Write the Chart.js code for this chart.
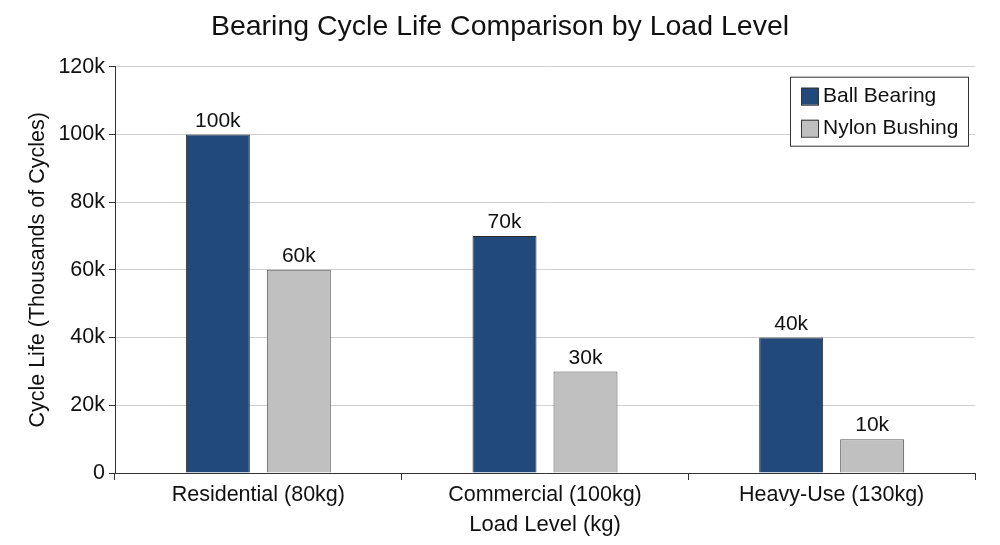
<!DOCTYPE html>
<html>
<head>
<meta charset="utf-8">
<script src="https://cdn.jsdelivr.net/npm/chart.js@4"></script>
<style>
  html, body { margin: 0; padding: 0; background: #fff; }
  #wrap { width: 1000px; height: 545px; }
</style>
</head>
<body>
<div id="wrap"><canvas id="myChart" width="1000" height="545"></canvas></div>
<script>
// values in thousands of cycles
const categories = ['Residential (80kg)', 'Commercial (100kg)', 'Heavy-Use (130kg)'];
const ballBearing = [100, 70, 40];
const nylonBushing = [60, 30, 10];
const yTicks = [0, 20, 40, 60, 80, 100, 120];

const FONT = '"Liberation Sans", Arial, sans-serif';
Chart.defaults.font.family = FONT;
Chart.defaults.color = '#111';

// center the title on the whole canvas, not on the padded area
const centerTitle = {
  id: 'centerTitle',
  afterLayout(chart) {
    const t = chart.titleBlock;
    if (t) { t.left = 0; t.right = chart.width; t.width = chart.width; }
  }
};

// value labels above each bar
const barLabels = {
  id: 'barLabels',
  afterDatasetsDraw(chart) {
    const ctx = chart.ctx;
    ctx.save();
    ctx.font = '21px ' + FONT;
    ctx.fillStyle = '#111';
    ctx.textAlign = 'center';
    ctx.textBaseline = 'bottom';
    chart.data.datasets.forEach((ds, i) => {
      chart.getDatasetMeta(i).data.forEach((bar, j) => {
        ctx.fillText(ds.data[j] + 'k', bar.x, bar.y - 3);
      });
    });
    ctx.restore();
  }
};

// boxed legend in the top right of the plot
const boxLegend = {
  id: 'boxLegend',
  afterDraw(chart) {
    const ctx = chart.ctx;
    const area = chart.chartArea;
    const w = 178, h = 69;
    const x = area.right - 7 - w, y = area.top + 10;
    ctx.save();
    ctx.fillStyle = '#fff';
    ctx.fillRect(x, y, w, h);
    ctx.strokeStyle = '#333';
    ctx.lineWidth = 1;
    ctx.strokeRect(x + 0.5, y + 0.5, w, h);
    ctx.font = '21px ' + FONT;
    ctx.textBaseline = 'middle';
    chart.data.datasets.forEach((ds, i) => {
      const cy = y + 19 + i * 32;
      ctx.fillStyle = ds.backgroundColor;
      ctx.fillRect(x + 11, cy - 8, 17, 17);
      ctx.strokeStyle = '#333';
      ctx.strokeRect(x + 11.5, cy - 7.5, 17, 17);
      ctx.fillStyle = '#111';
      ctx.fillText(ds.label, x + 33, cy + 1);
    });
    ctx.restore();
  }
};

new Chart(document.getElementById('myChart'), {
  type: 'bar',
  data: {
    labels: categories,
    datasets: [
      {
        label: 'Ball Bearing',
        data: ballBearing,
        backgroundColor: '#214a7b',
        borderColor: '#2a2a2a',
        borderWidth: 1,
        barPercentage: 0.79,
        categoryPercentage: 0.565
      },
      {
        label: 'Nylon Bushing',
        data: nylonBushing,
        backgroundColor: '#c0c0c0',
        borderColor: '#555',
        borderWidth: 1,
        barPercentage: 0.79,
        categoryPercentage: 0.565
      }
    ]
  },
  options: {
    responsive: false,
    animation: false,
    layout: { padding: { left: 0, right: 25, top: 0, bottom: 0 } },
    plugins: {
      legend: { display: false },
      tooltip: { enabled: false },
      title: {
        display: true,
        text: 'Bearing Cycle Life Comparison by Load Level',
        font: { size: 28.5, weight: 'normal' },
        color: '#111',
        padding: { top: 10, bottom: 22.5 }
      }
    },
    scales: {
      x: {
        grid: {
          offset: true,
          drawOnChartArea: false,
          drawTicks: true,
          tickLength: 7,
          color: '#333'
        },
        border: { color: '#333', width: 1 },
        ticks: { font: { size: 21.5 }, color: '#111', padding: 2 },
        title: {
          display: true,
          text: 'Load Level (kg)',
          font: { size: 22 },
          color: '#111',
          padding: { top: 0, bottom: 7 }
        },
        afterFit(s) { s.height = 72; }
      },
      y: {
        min: 0,
        max: 120,
        afterBuildTicks(s) { s.ticks = yTicks.map(v => ({ value: v })); },
        grid: {
          color: '#cfcfcf',
          tickColor: '#333',
          tickLength: 6
        },
        border: { color: '#333', width: 1 },
        ticks: {
          font: { size: 21.5 },
          color: '#111',
          padding: 4,
          callback: v => v === 0 ? '0' : v + 'k'
        },
        title: {
          display: true,
          text: 'Cycle Life (Thousands of Cycles)',
          font: { size: 21.5 },
          color: '#111',
          padding: { top: 25, bottom: 0 }
        },
        afterFit(s) { s.width = 115; }
      }
    }
  },
  plugins: [centerTitle, barLabels, boxLegend]
});
</script>
</body>
</html>
